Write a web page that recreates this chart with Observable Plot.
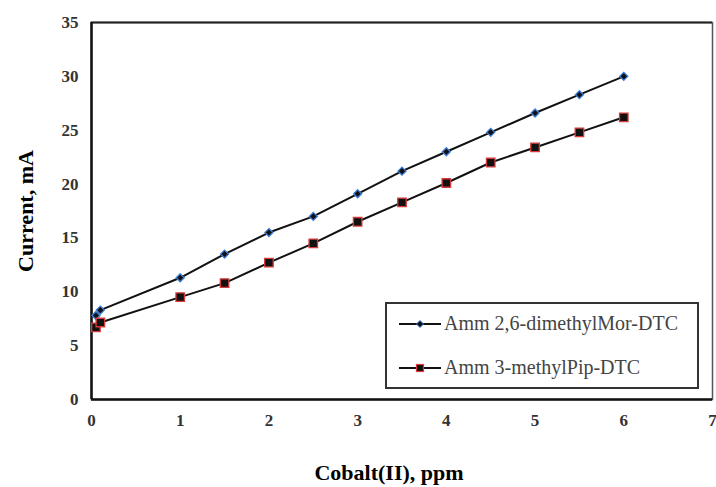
<!DOCTYPE html>
<html>
<head>
<meta charset="utf-8">
<script src="https://cdn.jsdelivr.net/npm/d3@7"></script>
<script src="https://cdn.jsdelivr.net/npm/@observablehq/plot@0.6"></script>
<style>
  html, body { margin: 0; padding: 0; background: #fff; }
  #wrap { position: relative; width: 716px; height: 487px; }
  #legend {
    position: absolute; left: 385px; top: 302px; width: 310px; height: 83px;
    border: 2px solid #333; background: #fff;
  }
  #legend span { font-family: "Liberation Serif", "Times New Roman", serif; font-size: 20px; color: #444; }
  .entry { position: absolute; left: 12px; display: flex; align-items: center; }
  .entry svg { margin-right: 3px; }
</style>
</head>
<body>
<div id="wrap"></div>
<script>
const cobalt = [0.05, 0.1, 1, 1.5, 2, 2.5, 3, 3.5, 4, 4.5, 5, 5.5, 6];
const morDTC = [7.8, 8.3, 11.3, 13.5, 15.5, 17.0, 19.1, 21.2, 23.0, 24.8, 26.6, 28.3, 30.0];
const pipDTC = [6.7, 7.15, 9.5, 10.8, 12.7, 14.5, 16.5, 18.3, 20.1, 22.0, 23.4, 24.8, 26.2];
const seriesNames = ["Amm 2,6-dimethylMor-DTC", "Amm 3-methylPip-DTC"];
const xTicks = [0, 1, 2, 3, 4, 5, 6, 7];
const yTicks = [0, 5, 10, 15, 20, 25, 30, 35];

const mor = cobalt.map((c, i) => ({x: c, y: morDTC[i]}));
const pip = cobalt.map((c, i) => ({x: c, y: pipDTC[i]}));
const SERIF = "'Liberation Serif', 'Times New Roman', serif";

const chart = Plot.plot({
  width: 716,
  height: 487,
  marginLeft: 91,
  marginTop: 22,
  marginRight: 4,
  marginBottom: 88,
  style: {fontFamily: SERIF, background: "#fff", color: "#333"},
  x: {domain: [0, 7], ticks: xTicks},
  y: {domain: [0, 35], ticks: yTicks},
  marks: [
    Plot.frame({stroke: "#555", strokeWidth: 1.5}),
    Plot.ruleY([35], {stroke: "#222", strokeWidth: 2}),
    Plot.ruleX([0], {stroke: "#111", strokeWidth: 2.5}),
    Plot.ruleY([0], {stroke: "#111", strokeWidth: 2.5}),
    Plot.axisX({ticks: xTicks, tickFormat: d => String(d), tickSize: 0, tickPadding: 14, fontSize: 17, fontWeight: "bold", fill: "#333",
      label: "Cobalt(II), ppm", labelAnchor: "center", labelOffset: 80, labelArrow: "none"}),
    Plot.axisY({ticks: yTicks, tickFormat: d => String(d), tickSize: 0, tickPadding: 13, fontSize: 17, fontWeight: "bold", fill: "#333",
      label: "Current, mA", labelAnchor: "center", labelOffset: 74, labelArrow: "none"}),
    Plot.line(mor, {x: "x", y: "y", stroke: "#111", strokeWidth: 2}),
    Plot.line(pip, {x: "x", y: "y", stroke: "#111", strokeWidth: 2}),
    Plot.dot(mor, {x: "x", y: "y", symbol: "diamond2", r: 3.6, fill: "#111", stroke: "#3b7dd8", strokeWidth: 1.3}),
    Plot.dot(pip, {x: "x", y: "y", symbol: "square", r: 4.8, fill: "#111", stroke: "#d83a3a", strokeWidth: 1.3})
  ]
});

d3.select(chart).selectAll("text").attr("font-family", SERIF);
d3.select(chart).selectAll("g[aria-label='x-axis label'] text, g[aria-label='y-axis label'] text")
  .attr("font-size", 22).attr("font-weight", "bold").attr("fill", "#000");
const xl = d3.select(chart).select("g[aria-label='x-axis label']");
xl.attr("transform", (xl.attr("transform") || "") + " translate(-13,0)");

document.getElementById("wrap").appendChild(chart);

const legend = document.createElement("div");
legend.id = "legend";
const markers = [
  `<path d="M21,-3.5 L24.5,0 L21,3.5 L17.5,0 Z" fill="#111" stroke="#3b7dd8" stroke-width="1"/>`,
  `<rect x="17.5" y="-3.5" width="7" height="7" fill="#111" stroke="#d83a3a" stroke-width="1.2"/>`
];
seriesNames.forEach((name, i) => {
  const e = document.createElement("div");
  e.className = "entry";
  e.style.top = (i === 0 ? 8 : 52) + "px";
  e.innerHTML = `<svg width="42" height="16" viewBox="0 -8 42 16"><line x1="0" y1="0" x2="42" y2="0" stroke="#111" stroke-width="2"/>${markers[i]}</svg><span>${name}</span>`;
  legend.appendChild(e);
});
document.getElementById("wrap").appendChild(legend);
</script>
</body>
</html>
